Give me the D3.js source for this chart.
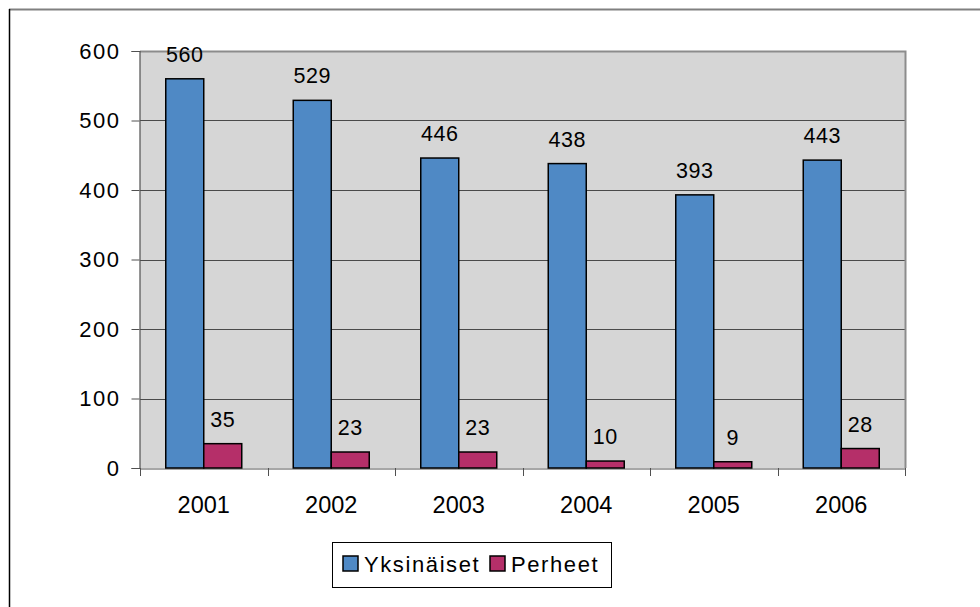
<!DOCTYPE html>
<html>
<head>
<meta charset="utf-8">
<script src="https://cdn.jsdelivr.net/npm/d3@7"></script>
<style>
  body { margin: 0; background: #fff; }
  text { font-family: "Liberation Sans", Arial, sans-serif; fill: #000; }
</style>
</head>
<body>
<script>
// data
var years = ['2001', '2002', '2003', '2004', '2005', '2006'];
var yksinaiset = [560, 529, 446, 438, 393, 443];
var perheet = [35, 23, 23, 10, 9, 28];
var seriesNames = ['Yksinäiset', 'Perheet'];
var yTicks = [0, 100, 200, 300, 400, 500, 600];

var colors = ['#4f89c5', '#b52f69'];

var width = 980, height = 607;
var plot = { left: 140, right: 905, top: 51, bottom: 468 };

var svg = d3.select('body').append('svg')
  .attr('width', width)
  .attr('height', height);

// outer frame (only top and left edges are visible in the picture)
svg.append('line').attr('x1', 9).attr('x2', 985).attr('y1', 9.5).attr('y2', 9.5)
  .attr('stroke', '#808080').attr('stroke-width', 2);
svg.append('line').attr('x1', 9.5).attr('x2', 9.5).attr('y1', 9).attr('y2', 610)
  .attr('stroke', '#000').attr('stroke-width', 1.5);

var x = d3.scaleBand().domain(years).range([plot.left, plot.right]);
var xs = d3.scaleBand().domain(seriesNames).range([0, 76]);
var y = d3.scaleLinear().domain([0, 600]).range([plot.bottom, plot.top]);

// plot area background
svg.append('rect')
  .attr('x', plot.left).attr('y', plot.top)
  .attr('width', plot.right - plot.left).attr('height', plot.bottom - plot.top)
  .attr('fill', '#d6d6d6');

// gridlines
svg.append('g').selectAll('line')
  .data(yTicks.slice(1, -1))
  .enter().append('line')
  .attr('x1', plot.left).attr('x2', plot.right)
  .attr('y1', d => Math.round(y(d)) + 0.5).attr('y2', d => Math.round(y(d)) + 0.5)
  .attr('stroke', '#4a4a4a').attr('stroke-width', 1.2);

// plot border top & right
svg.append('path')
  .attr('d', 'M' + plot.left + ',' + (plot.top + 0.5) + 'H' + (plot.right + 0.5) + 'V' + plot.bottom)
  .attr('fill', 'none').attr('stroke', '#8c8c8c').attr('stroke-width', 2);

// y axis
var yAxis = svg.append('g')
  .attr('transform', 'translate(' + (plot.left - 0.5) + ',0)')
  .call(d3.axisLeft(y).tickValues(yTicks).tickSize(8).tickPadding(11));
yAxis.select('.domain').attr('stroke', '#505050').attr('stroke-width', 1.2);
yAxis.selectAll('.tick line').attr('stroke', '#505050');
yAxis.selectAll('text').attr('font-size', 22).attr('letter-spacing', 1.5).attr('fill', '#000')
  .attr('font-family', '"Liberation Sans", Arial, sans-serif');

// x axis
var xAxis = svg.append('g')
  .attr('transform', 'translate(0,' + (plot.bottom + 0.5) + ')')
  .call(d3.axisBottom(x).tickSize(0).tickPadding(28));
xAxis.select('.domain').attr('stroke', '#505050').attr('stroke-width', 1.2);
xAxis.selectAll('text').attr('font-size', 23.5).attr('fill', '#000')
  .attr('font-family', '"Liberation Sans", Arial, sans-serif');
// category separator ticks
svg.append('g').selectAll('line')
  .data(years.concat(['end']))
  .enter().append('line')
  .attr('x1', (d, i) => Math.round(plot.left + i * x.step()) + 0.5)
  .attr('x2', (d, i) => Math.round(plot.left + i * x.step()) + 0.5)
  .attr('y1', plot.bottom).attr('y2', plot.bottom + 8)
  .attr('stroke', '#505050');

// bars
var series = [yksinaiset, perheet];
var groupOffset = (x.bandwidth() - xs.range()[1]) / 2;
series.forEach(function (vals, si) {
  var g = svg.append('g');
  g.selectAll('rect')
    .data(vals)
    .enter().append('rect')
    .attr('x', (d, i) => x(years[i]) + groupOffset + xs(seriesNames[si]))
    .attr('y', d => y(d))
    .attr('width', xs.bandwidth())
    .attr('height', d => y(0) - y(d))
    .attr('fill', colors[si])
    .attr('stroke', '#000')
    .attr('stroke-width', 1.5);
  g.selectAll('text')
    .data(vals)
    .enter().append('text')
    .attr('x', (d, i) => x(years[i]) + groupOffset + xs(seriesNames[si]) + xs.bandwidth() / 2)
    .attr('y', d => y(d) - 17)
    .attr('text-anchor', 'middle')
    .attr('font-size', 21.5)
    .attr('letter-spacing', 0.5)
    .text(d => d);
});

// legend
var legend = svg.append('g');
legend.append('rect')
  .attr('x', 332.5).attr('y', 542.5).attr('width', 279).attr('height', 45)
  .attr('fill', '#fff').attr('stroke', '#000').attr('stroke-width', 1);
var legendX = [343, 490];
seriesNames.forEach(function (name, i) {
  legend.append('rect')
    .attr('x', legendX[i]).attr('y', 556).attr('width', 15).attr('height', 15)
    .attr('fill', colors[i]).attr('stroke', '#000').attr('stroke-width', 1.5);
  legend.append('text')
    .attr('x', legendX[i] + 21).attr('y', 572)
    .attr('font-size', 22).attr('letter-spacing', 1.6)
    .text(name);
});
</script>
</body>
</html>
